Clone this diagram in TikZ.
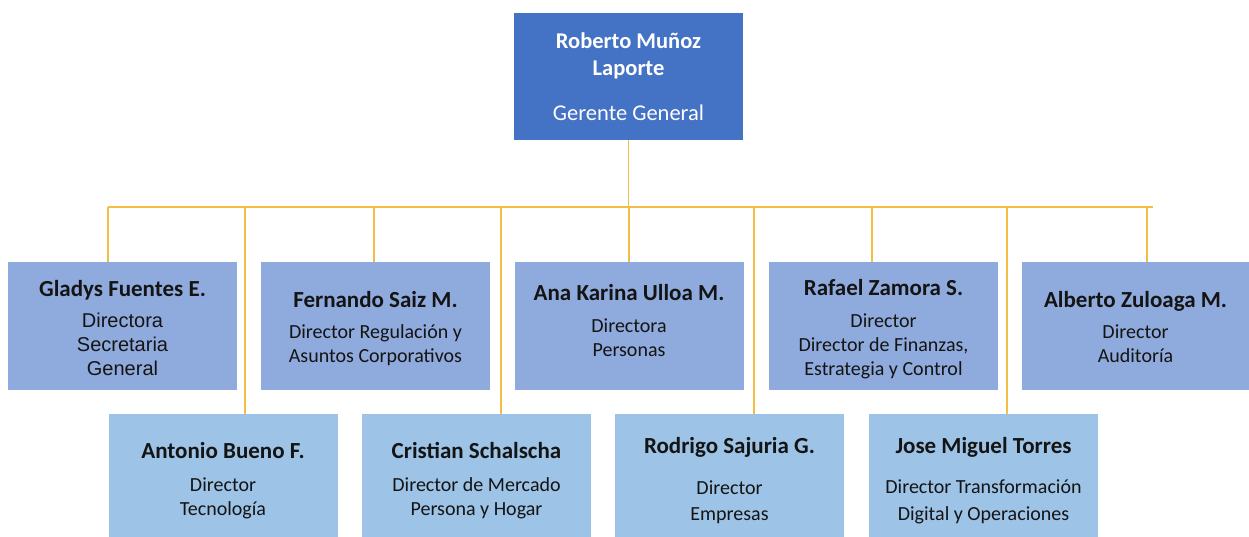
\documentclass[tikz,border=0pt]{standalone}
\usepackage{fontspec}
\setmainfont{Carlito}
\newfontfamily\arialf{Liberation Sans}
\definecolor{topblue}{HTML}{4472C4}
\definecolor{rowa}{HTML}{8FAADC}
\definecolor{rowb}{HTML}{9DC3E6}
\definecolor{linegold}{HTML}{F2BE45}
\definecolor{ink}{HTML}{141414}
\newcommand{\ttl}[1]{{\fontsize{23}{24}\selectfont\bfseries #1}}
\newcommand{\hstrut}{\rule{0pt}{18pt}}
\begin{document}
\begin{tikzpicture}[x=1pt,y=-1pt,
  box/.style={rectangle, inner sep=0pt, minimum width=229pt, minimum height=128pt, draw=none},
  boxa/.style={box, fill=rowa},
  boxb/.style={box, fill=rowb, minimum height=123pt},
  txt/.style={align=center, anchor=north, inner sep=0pt, text=ink, font=\fontsize{20}{24}\selectfont},
  conn/.style={draw=linegold, line width=1.3pt}]
\useasboundingbox (0,0) rectangle (1249,537);
% boxes
\node[box, fill=topblue, minimum height=127pt] (gg) at (628.5,76.5) {};
\node[boxa] (gladys) at (122.5,326) {};
\node[boxa] (fernando) at (375.5,326) {};
\node[boxa] (ana) at (629,326) {};
\node[boxa] (rafael) at (883.5,326) {};
\node[boxa, minimum width=227pt] (alberto) at (1135.5,326) {};
\node[boxb] (antonio) at (223,475.5) {};
\node[boxb] (cristian) at (476.5,475.5) {};
\node[boxb] (rodrigo) at (729.5,475.5) {};
\node[boxb] (jose) at (983.5,475.5) {};
% bus coordinates
\coordinate (busL) at (108,207);
\coordinate (busR) at (1153,207);
\coordinate (c1) at (108,207);
\coordinate (c2) at (245,207);
\coordinate (c3) at (374,207);
\coordinate (c4) at (501,207);
\coordinate (c5) at (629,207);
\coordinate (c6) at (754,207);
\coordinate (c7) at (872,207);
\coordinate (c8) at (1007,207);
\coordinate (c9) at (1147,207);
% connectors
\draw[conn] (gg.south) -- (gg.south |- busL);
\draw[conn] (busL) -- (busR);
\draw[conn] (c1) -- (c1 |- gladys.north);
\draw[conn] (c2) -- (c2 |- antonio.north);
\draw[conn] (c3) -- (c3 |- fernando.north);
\draw[conn] (c4) -- (c4 |- cristian.north);
\draw[conn] (c5) -- (c5 |- ana.north);
\draw[conn] (c6) -- (c6 |- rodrigo.north);
\draw[conn] (c7) -- (c7 |- rafael.north);
\draw[conn] (c8) -- (c8 |- jose.north);
\draw[conn] (c9) -- (c9 |- alberto.north);
% texts
\node[txt, text=white, font=\fontsize{22.5}{27}\selectfont] (gg-t) at (628.5,30) {\hstrut\textbf{Roberto Muñoz}\\\textbf{Laporte}\\[18pt]Gerente General};
\node[txt] (gladys-t) at (122.5,278) {\hstrut\ttl{Gladys Fuentes E.}\\[7pt]{\arialf Directora}\\{\arialf Secretaria}\\{\arialf General}};
\node[txt] (fernando-t) at (375.5,289) {\hstrut\ttl{Fernando Saiz M.}\\[7pt]Director Regulación y\\Asuntos Corporativos};
\node[txt] (ana-t) at (629,282) {\hstrut\ttl{Ana Karina Ulloa M.}\\[8pt]Directora\\Personas};
\node[txt] (rafael-t) at (883.5,277) {\hstrut\ttl{Rafael Zamora S.}\\[8pt]Director\\Director de Finanzas,\\Estrategia y Control};
\node[txt] (alberto-t) at (1135.5,289) {\hstrut\ttl{Alberto Zuloaga M.}\\[7pt]Director\\Auditoría};
\node[txt] (antonio-t) at (223,440) {\hstrut\ttl{Antonio Bueno F.}\\[9pt]Director\\Tecnología};
\node[txt] (cristian-t) at (476.5,440) {\hstrut\ttl{Cristian Schalscha}\\[9pt]Director de Mercado\\Persona y Hogar};
\node[txt] (rodrigo-t) at (729.5,435) {\hstrut\ttl{Rodrigo Sajuria G.}\\[17pt]Director\\[2pt]Empresas};
\node[txt] (jose-t) at (983.5,435) {\hstrut\ttl{Jose Miguel Torres}\\[16pt]Director Transformación\\[3pt]Digital y Operaciones};
\end{tikzpicture}
\end{document}
